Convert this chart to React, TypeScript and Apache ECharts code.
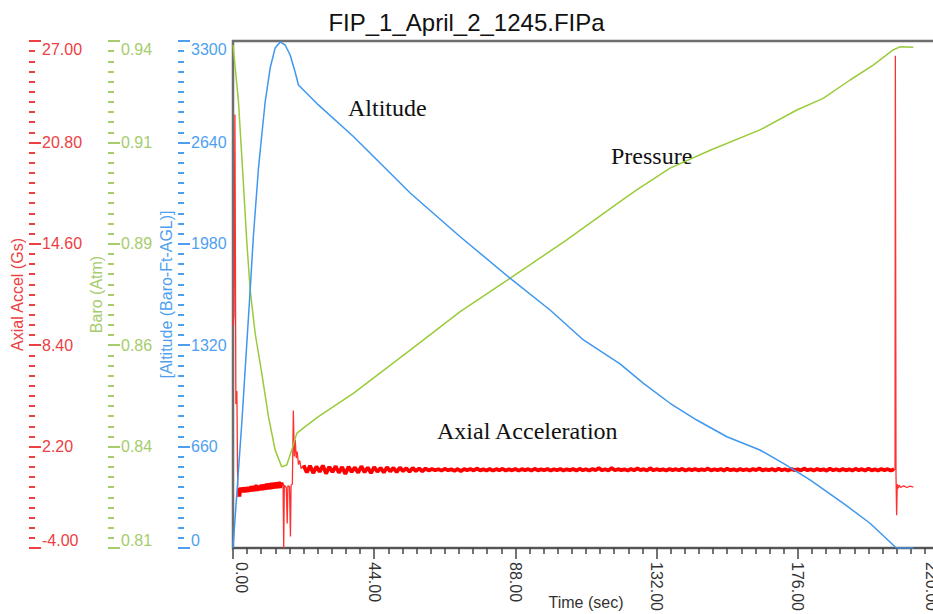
import React, { useEffect, useRef } from "react";
import * as echarts from "echarts";

const TITLE = "FIP_1_April_2_1245.FIPa";
const SANS = "'Liberation Sans', Arial, sans-serif";
const SERIF = "'Liberation Serif', 'Times New Roman', serif";

// time axis (sec)
const timeMin = 0;
const timeMax = 220;
const timeInterval = 44;

// axis ranges
const accelMin = -4;
const accelMax = 27;
const accelInterval = 6.2;
const baroMin = 0.81;
const baroMax = 0.94;
const baroInterval = 0.026;
const altMin = 0;
const altMax = 3300;
const altInterval = 660;

// Altitude (Baro-Ft-AGL) [t, ft]
const altitude: [number, number][] = [
  [0, 0], [0.16, 0], [2.74, 814], [5.35, 1679], [6.38, 2037], [7.94, 2473], [8.97, 2688],
  [10.02, 2903], [11.58, 3124], [13.14, 3255], [14.69, 3294], [16.25, 3274], [17.81, 3209],
  [19.36, 3098], [20.39, 3014], [23.5, 2949], [26.6, 2884], [37.6, 2677], [55.3, 2309],
  [70.8, 2026], [86.4, 1755], [98.8, 1549], [109.2, 1354], [120.6, 1198], [127.9, 1072],
  [136.2, 942], [144.5, 833], [153.9, 724], [164.2, 638], [171.5, 551], [179.8, 443],
  [190.2, 291], [198.5, 161], [206.3, 8], [206.8, 0], [212, 0],
];

// Baro (Atm) [t, atm]
const baro: [number, number][] = [
  [0, 0.939], [0.16, 0.939], [1.71, 0.9244], [3.27, 0.9031], [4.3, 0.8885], [5.35, 0.8762],
  [6.91, 0.865], [8.97, 0.8548], [11.05, 0.8437], [13.14, 0.8351], [15.19, 0.8308],
  [16.75, 0.8313], [18.31, 0.8351], [19.86, 0.8394], [22.48, 0.8411], [26.62, 0.8437],
  [37.6, 0.8497], [55.3, 0.8608], [70.8, 0.8706], [86.4, 0.8792], [104.0, 0.889],
  [120.6, 0.8988], [125.8, 0.9018], [136.2, 0.9074], [148.7, 0.912], [164.2, 0.9172],
  [175.7, 0.9223], [183.9, 0.9253], [192.3, 0.93], [199.5, 0.9338], [205.7, 0.9377],
  [207.8, 0.9385], [212, 0.9384],
];

// Axial Accel (Gs) [t, g]
const accelLaunch: [number, number][] = [
  [0, 9.6], [0.3, 10.2], [0.6, 22.5], [0.9, 4.8], [1.2, 5.6], [1.5, -0.9], [1.8, -0.35],
];
const accelCoast: [number, number][] = [
  [1.8, -0.35], [2.1, -0.85], [2.4, -0.3], [2.8, -0.6], [3.2, -0.3], [3.6, -0.6],
  [4.0, -0.28], [4.4, -0.58], [4.8, -0.26], [5.2, -0.56], [5.6, -0.22], [6.0, -0.54],
  [6.4, -0.2], [6.8, -0.52], [7.2, -0.14], [7.6, -0.5], [8.0, -0.18], [8.4, -0.48],
  [8.8, -0.12], [9.2, -0.46], [9.6, -0.1], [10.0, -0.44], [10.4, -0.06], [10.8, -0.42],
  [11.2, -0.04], [11.6, -0.4], [12.0, -0.02], [12.4, -0.38], [12.8, 0.0], [13.2, -0.36],
  [13.6, 0.02], [14.0, -0.34], [14.4, 0.04], [14.8, -0.33], [15.2, 0.0], [15.5, -0.2],
];
const accelEjection: [number, number][] = [
  [15.5, -0.2], [15.6, -0.1], [15.8, -4.0], [16.0, -0.15], [16.6, -0.3], [16.9, -2.5], [17.1, -0.2],
  [17.6, -0.25], [17.9, -3.3], [18.1, -0.15], [18.5, -0.1], [18.8, 4.4], [19.1, 1.6],
  [19.4, 2.6], [19.7, 1.5], [20.0, 1.9], [20.4, 1.1], [20.8, 1.35], [21.2, 0.85], [22, 1.05],
];
const accelDescent: [number, number][] = [
  [22, 1.05], [23, 0.62], [24, 1.02], [25, 0.58], [26, 0.98], [27, 0.66], [28, 1.04], [29, 0.55], [30, 0.96],
  [31, 0.64], [32, 1.0], [33, 0.6], [34, 0.95], [35, 0.52], [36, 0.97], [37, 0.65], [38, 0.93], [39, 0.6], [40, 1.0],
  [41, 0.63], [42, 0.92], [43, 0.58], [44, 0.95], [45, 0.66], [46, 0.9], [47, 0.62], [48, 0.94], [49, 0.68], [50, 0.9],
  [51, 0.64], [52, 0.92], [53, 0.7], [54, 0.88], [55, 0.66], [56, 0.9], [57, 0.7], [58, 0.87], [59, 0.69], [60, 0.86],
  [61, 0.74], [62, 0.83], [63, 0.75], [64, 0.82], [65, 0.73], [66, 0.84], [67, 0.76], [68, 0.81], [69, 0.72], [70, 0.83],
  [71, 0.7], [72, 0.82], [73, 0.76], [74, 0.83], [75, 0.74], [76, 0.86], [77, 0.75], [78, 0.81], [79, 0.74], [80, 0.83],
  [81, 0.73], [82, 0.82], [83, 0.76], [84, 0.84], [85, 0.74], [86, 0.81], [87, 0.75], [88, 0.83], [89, 0.73], [90, 0.82],
  [91, 0.76], [92, 0.82], [93, 0.74], [94, 0.84], [95, 0.75], [96, 0.81], [97, 0.76], [98, 0.83], [99, 0.74], [100, 0.82],
  [101, 0.75], [102, 0.83], [103, 0.74], [104, 0.81], [105, 0.76], [106, 0.83], [107, 0.74], [108, 0.84], [109, 0.75], [110, 0.82],
  [111, 0.74], [112, 0.83], [113, 0.76], [114, 0.88], [115, 0.75], [116, 0.82], [117, 0.74], [118, 0.89], [119, 0.75], [120, 0.82],
  [121, 0.76], [122, 0.81], [123, 0.74], [124, 0.83], [125, 0.75], [126, 0.87], [127, 0.76], [128, 0.82], [129, 0.74], [130, 0.88],
  [131, 0.75], [132, 0.82], [133, 0.76], [134, 0.81], [135, 0.74], [136, 0.83], [137, 0.76], [138, 0.82], [139, 0.75], [140, 0.84],
  [141, 0.74], [142, 0.82], [143, 0.76], [144, 0.83], [145, 0.75], [146, 0.81], [147, 0.76], [148, 0.86], [149, 0.74], [150, 0.82],
  [151, 0.75], [152, 0.83], [153, 0.74], [154, 0.85], [155, 0.76], [156, 0.81], [157, 0.74], [158, 0.83], [159, 0.75], [160, 0.82],
  [161, 0.74], [162, 0.83], [163, 0.76], [164, 0.87], [165, 0.75], [166, 0.81], [167, 0.76], [168, 0.83], [169, 0.74], [170, 0.85],
  [171, 0.75], [172, 0.82], [173, 0.74], [174, 0.83], [175, 0.76], [176, 0.81], [177, 0.74], [178, 0.86], [179, 0.75], [180, 0.82],
  [181, 0.74], [182, 0.83], [183, 0.76], [184, 0.81], [185, 0.73], [186, 0.85], [187, 0.75], [188, 0.82], [189, 0.74], [190, 0.83],
  [191, 0.75], [192, 0.81], [193, 0.74], [194, 0.84], [195, 0.76], [196, 0.82], [197, 0.74], [198, 0.85], [199, 0.75], [200, 0.81],
  [201, 0.74], [202, 0.83], [203, 0.76], [204, 0.82], [205, 0.74], [206, 0.82],
];
const accelLanding: [number, number][] = [
  [206, 0.82], [206.3, 0.78], [206.4, 26.1], [206.6, 0.5], [206.8, -2.0], [207.0, -0.1], [207.3, -0.35],
  [207.6, -0.15], [208, -0.3], [209, -0.2], [210, -0.3], [211, -0.22], [212, -0.28],
];

const RED = "#ff0000";
const RED_THIN = "#ff3030";
const RED_AXIS = "#ec4043";
const GREEN = "#9acb3a";
const GREEN_AXIS = "#a6cc6c";
const BLUE = "#3f97ee";
const BLUE_AXIS = "#4f9ff0";

function yAxis(color: string, offset: number, name: string, min: number, max: number, interval: number, decimals: number) {
  return {
    type: "value",
    position: "left",
    offset,
    min,
    max,
    interval,
    name,
    nameLocation: "middle",
    nameGap: 4,
    nameRotate: 90,
    nameMoveOverlap: false,
    nameTextStyle: { color, fontSize: 16, fontFamily: SANS },
    axisLine: { show: false, onZero: false },
    axisTick: { show: true, inside: true, length: 12, lineStyle: { color, width: 2 } },
    minorTick: { show: true, splitNumber: 10, length: 6, lineStyle: { color, width: 2 } },
    axisLabel: {
      inside: true,
      margin: 13,
      color,
      fontSize: 16,
      fontFamily: SANS,
      formatter: (v: number) => v.toFixed(decimals),
      verticalAlignMinLabel: "bottom",
      verticalAlignMaxLabel: "top",
    },
    splitLine: { show: false },
    minorSplitLine: { show: false },
  };
}

function accelSeries(name: string, data: [number, number][], width: number, color: string) {
  return {
    name,
    type: "line",
    yAxisIndex: 0,
    data,
    showSymbol: false,
    lineStyle: { color, width },
    itemStyle: { color },
  };
}

export default function App() {
  const ref = useRef<HTMLDivElement>(null);
  useEffect(() => {
    if (!ref.current) return;
    const chart = echarts.init(ref.current, null, { renderer: "svg" });
    chart.setOption({
      animation: false,
      backgroundColor: "#ffffff",
      title: {
        text: TITLE,
        left: "center",
        top: 5,
        textStyle: { fontSize: 24, fontWeight: "normal", color: "#111", fontFamily: SANS },
      },
      grid: {
        left: 233,
        top: 41,
        right: -6,
        bottom: 66,
        outerBoundsMode: "none",
        containLabel: false,
        show: true,
        borderColor: "#6e6e6e",
        borderWidth: 2.5,
        backgroundColor: "transparent",
      },
      xAxis: {
        type: "value",
        min: timeMin,
        max: timeMax,
        interval: timeInterval,
        name: "Time (sec)",
        nameLocation: "middle",
        nameGap: 46,
        nameMoveOverlap: false,
        nameTextStyle: { color: "#333", fontSize: 16, fontFamily: SANS },
        axisLine: { onZero: false, lineStyle: { color: "#555", width: 2 } },
        axisTick: { length: 11, lineStyle: { color: "#444", width: 1.5 } },
        minorTick: { show: true, splitNumber: 10, length: 6, lineStyle: { color: "#444", width: 1.5 } },
        axisLabel: {
          rotate: -90,
          margin: 14,
          fontSize: 16,
          color: "#333",
          fontFamily: SANS,
          formatter: (v: number) => v.toFixed(2),
          verticalAlignMinLabel: "bottom",
          verticalAlignMaxLabel: "top",
        },
        splitLine: { show: false },
        minorSplitLine: { show: false },
      },
      yAxis: [
        yAxis(RED_AXIS, 204, "Axial Accel (Gs)", accelMin, accelMax, accelInterval, 2),
        yAxis(GREEN_AXIS, 125, "Baro (Atm)", baroMin, baroMax, baroInterval, 2),
        yAxis(BLUE_AXIS, 55, "[Altitude (Baro-Ft-AGL)]", altMin, altMax, altInterval, 0),
      ],
      series: [
        accelSeries("Accel launch", accelLaunch, 1.3, RED_THIN),
        accelSeries("Accel coast", accelCoast, 3.2, RED),
        accelSeries("Accel ejection", accelEjection, 1.3, RED_THIN),
        accelSeries("Accel descent", accelDescent, 3.8, RED),
        accelSeries("Accel landing", accelLanding, 1.3, RED_THIN),
        {
          name: "Baro",
          type: "line",
          yAxisIndex: 1,
          data: baro,
          showSymbol: false,
          lineStyle: { color: GREEN, width: 1.5 },
          itemStyle: { color: GREEN },
        },
        {
          name: "Altitude",
          type: "line",
          yAxisIndex: 2,
          data: altitude,
          showSymbol: false,
          lineStyle: { color: BLUE, width: 1.5 },
          itemStyle: { color: BLUE },
        },
      ],
      graphic: [
        { type: "text", x: 348, y: 108, style: { text: "Altitude", font: `24px ${SERIF}`, fill: "#111", verticalAlign: "middle" } },
        { type: "text", x: 611, y: 156, style: { text: "Pressure", font: `24px ${SERIF}`, fill: "#111", verticalAlign: "middle" } },
        { type: "text", x: 437, y: 431, style: { text: "Axial Acceleration", font: `24px ${SERIF}`, fill: "#111", verticalAlign: "middle" } },
      ],
    });
    return () => chart.dispose();
  }, []);
  return <div ref={ref} style={{ position: "fixed", left: 0, top: 0, width: 933, height: 614 }} />;
}
